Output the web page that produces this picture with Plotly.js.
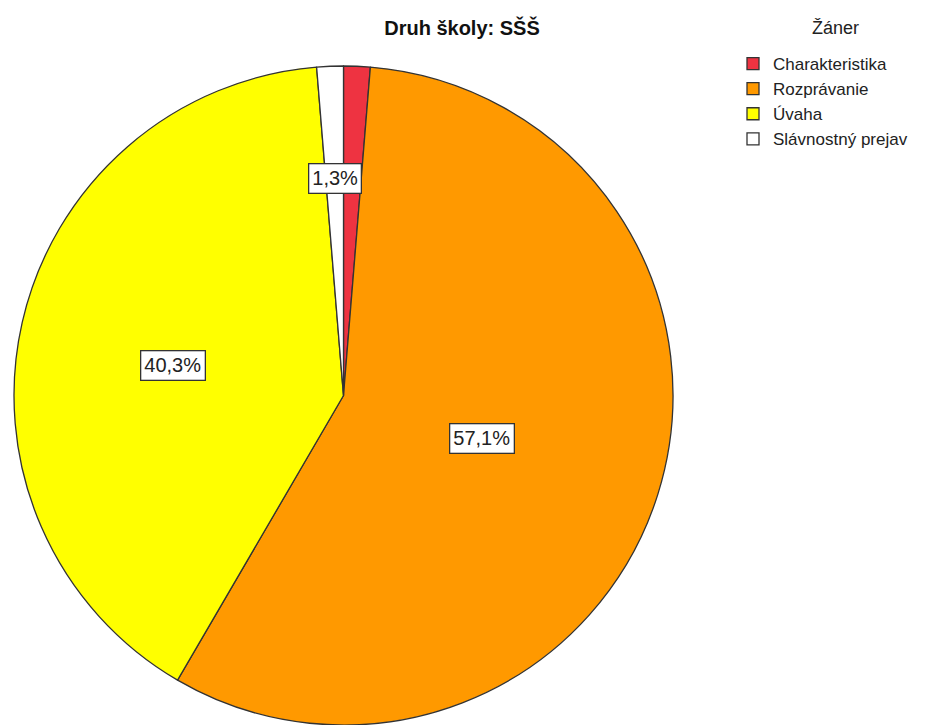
<!DOCTYPE html>
<html>
<head>
<meta charset="utf-8">
<script src="https://cdn.plot.ly/plotly-3.0.1.min.js"></script>
<style>html,body{margin:0;padding:0;background:#fff;overflow:hidden}</style>
</head>
<body>
<div id="chart" style="width:931px;height:725px"></div>
<script>
// Data
const categories = ["Charakteristika", "Rozprávanie", "Úvaha", "Slávnostný prejav"];
const values = [1.3, 57.1, 40.3, 1.3];
const shownLabels = [null, "57,1%", "40,3%", "1,3%"];
const colors = ["#EE3341", "#FF9900", "#FFFF00", "#FFFFFF"];
const legendTitle = "Žáner";
const chartTitle = "Druh školy: SŠŠ";

const W = 931, H = 725;
const dom = {x0: 12, x1: 675, y0: 66, y1: 725}; // pixel extents of the pie area
const r = Math.min(dom.x1 - dom.x0, dom.y1 - dom.y0) / 2;
const cx = (dom.x0 + dom.x1) / 2, cy = (dom.y0 + dom.y1) / 2;
const radialFrac = [0.6, 0.44, 0.53, 0.66];
const nudgeY = [0, 0, 9, 0];

const total = values.reduce((a, b) => a + b, 0);
const annotations = [];
let cum = 0;
values.forEach((v, i) => {
  const mid = (cum + v / 2) / total * 2 * Math.PI;
  cum += v;
  if (!shownLabels[i]) return;
  const px = cx + radialFrac[i] * r * Math.sin(mid);
  const py = cy - radialFrac[i] * r * Math.cos(mid) + nudgeY[i];
  annotations.push({
    xref: 'paper', yref: 'paper', x: px / W, y: 1 - py / H,
    xanchor: 'center', yanchor: 'middle', showarrow: false,
    text: shownLabels[i],
    font: {family: 'Liberation Sans, Arial, sans-serif', size: 20, color: '#222'},
    bgcolor: '#FFFFFF', bordercolor: '#333', borderwidth: 1.3, borderpad: 3
  });
});
annotations.push({
  xref: 'paper', yref: 'paper', x: 835 / W, y: 1 - 28 / H,
  xanchor: 'center', yanchor: 'middle', showarrow: false,
  text: legendTitle,
  font: {family: 'Liberation Sans, Arial, sans-serif', size: 18, color: '#222'}
});

const trace = {
  type: 'pie',
  labels: categories,
  values: values,
  sort: false,
  direction: 'clockwise',
  rotation: 0,
  textinfo: 'none',
  hoverinfo: 'label+percent',
  marker: {colors: colors, line: {color: '#333333', width: 1.3}},
  domain: {x: [dom.x0 / W, dom.x1 / W], y: [1 - dom.y1 / H, 1 - dom.y0 / H]}
};

const layout = {
  width: W, height: H,
  margin: {l: 0, r: 0, t: 0, b: 0},
  paper_bgcolor: '#fff',
  title: {
    text: '<b>' + chartTitle + '</b>',
    x: 462 / W, xanchor: 'center', xref: 'paper',
    y: 1 - 28 / H, yanchor: 'middle', yref: 'container',
    font: {family: 'Liberation Sans, Arial, sans-serif', size: 20, color: '#111'}
  },
  showlegend: true,
  legend: {
    x: 733 / W, xanchor: 'left', y: 1 - 46 / H, yanchor: 'top',
    font: {family: 'Liberation Sans, Arial, sans-serif', size: 17, color: '#222'},
    traceorder: 'normal', tracegroupgap: 0, itemwidth: 30,
    bgcolor: 'rgba(0,0,0,0)'
  },
  annotations: annotations
};

Plotly.newPlot('chart', [trace], layout, {displayModeBar: false, staticPlot: true});
</script>
</body>
</html>
